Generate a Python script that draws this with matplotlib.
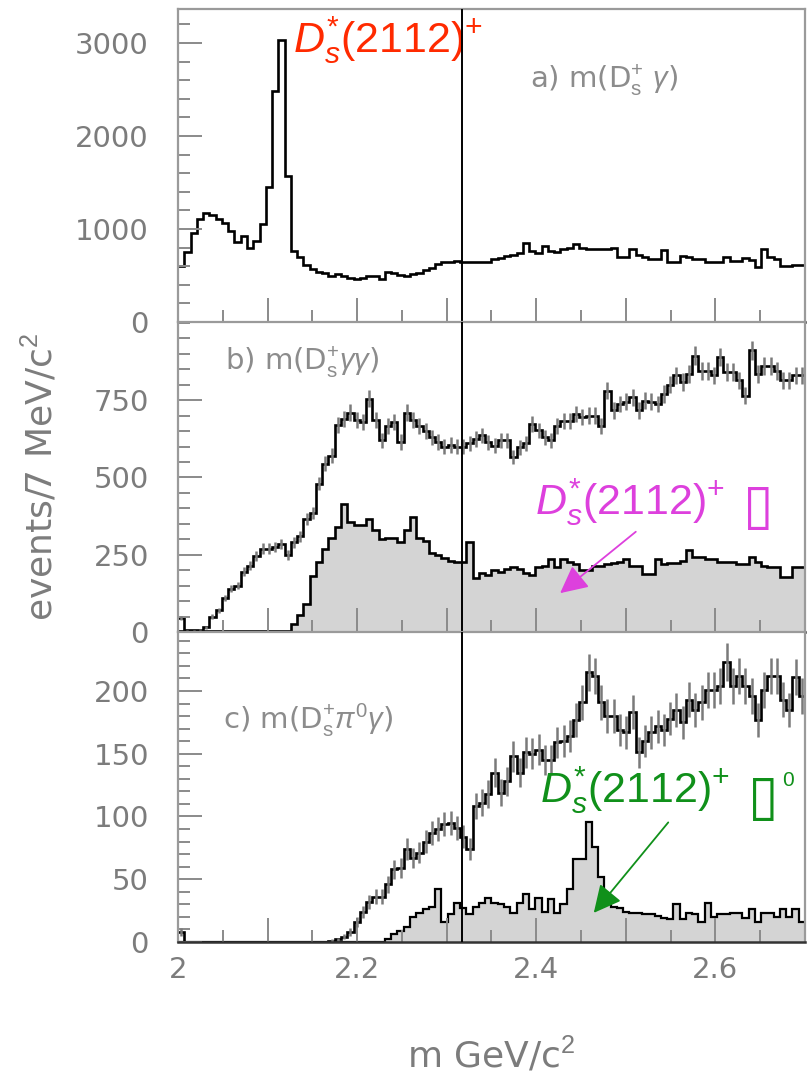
import numpy as np
import matplotlib.pyplot as plt
from matplotlib.ticker import MultipleLocator

plt.rcParams['font.family'] = ['DejaVu Sans']
plt.rcParams['mathtext.fontset'] = 'custom'
plt.rcParams['mathtext.rm'] = 'Liberation Sans'
plt.rcParams['mathtext.it'] = 'Liberation Sans:italic'

### data : 7 MeV bins, 2.0 - 2.7 GeV/c^2
m_lo, m_hi, n_bins = 2.0, 2.7, 100
m_ds2317 = 2.317  # vertical marker

# a) m(Ds gamma)
a_counts = [600, 750, 960, 1110, 1170, 1150, 1110, 1060, 980, 860,
            930, 800, 870, 1050, 1450, 2480, 3030, 1570, 760, 700,
            610, 570, 540, 530, 500, 520, 490, 470, 460, 470,
            490, 490, 460, 540, 530, 510, 490, 520, 530, 560,
            580, 620, 640, 640, 660, 650, 640, 650, 640, 650,
            680, 690, 710, 720, 740, 850, 760, 740, 820, 760,
            750, 790, 800, 840, 800, 780, 780, 790, 790, 800,
            700, 700, 780, 720, 700, 680, 680, 770, 640, 650,
            710, 700, 680, 680, 650, 640, 640, 700, 660, 660,
            690, 670, 590, 780, 700, 680, 600, 600, 610, 610]

# b) m(Ds gamma gamma) : all / Ds*(2112) gamma
b_all = [45, 5, 5, 8, 15, 50, 70, 110, 140, 150,
         195, 215, 245, 270, 270, 275, 285, 250, 290, 310,
         365, 385, 480, 545, 570, 670, 690, 710, 685, 680,
         755, 685, 620, 665, 680, 615, 710, 685, 665, 650,
         630, 615, 600, 605, 600, 600, 610, 625, 636, 614,
         603, 620, 620, 566, 598, 610, 673, 652, 630, 620,
         668, 684, 684, 706, 695, 700, 700, 668, 781, 717,
         738, 745, 760, 717, 749, 745, 738, 770, 800, 830,
         808, 835, 894, 846, 846, 830, 889, 840, 840, 814,
         765, 911, 835, 862, 862, 846, 814, 814, 830, 830]
b_dsstar = [3, 2, 3, 2, 3, 3, 2, 3, 3, 2,
            3, 3, 2, 3, 3, 2, 3, 3, 25, 55,
            90, 180, 225, 270, 305, 340, 415, 355, 345, 345,
            365, 330, 300, 305, 305, 290, 330, 372, 305, 295,
            255, 250, 240, 230, 225, 228, 290, 175, 190, 185,
            200, 195, 205, 210, 205, 190, 185, 210, 215, 237,
            210, 237, 225, 220, 200, 200, 215, 215, 220, 222,
            225, 235, 215, 215, 188, 188, 237, 220, 222, 222,
            230, 264, 242, 242, 237, 237, 226, 226, 228, 221,
            221, 242, 225, 215, 210, 210, 178, 178, 210, 210]

# c) m(Ds pi0 gamma) : all / Ds*(2112) pi0
c_all = [8, 0, 0, 0, 0, 0, 0, 0, 0, 0,
         0, 0, 0, 0, 0, 0, 0, 0, 0, 0,
         0, 0, 0, 0, 1, 2, 4, 8, 16, 24,
         32, 36, 36, 46, 58, 59, 74, 67, 71, 80,
         87, 90, 94, 95, 91, 84, 74, 108, 111, 118,
         135, 119, 128, 148, 135, 151, 150, 153, 145, 145,
         159, 160, 164, 177, 191, 215, 212, 191, 180, 180,
         169, 167, 183, 151, 160, 167, 172, 169, 178, 185,
         175, 193, 185, 191, 201, 201, 204, 223, 204, 212,
         204, 196, 177, 201, 212, 212, 193, 185, 211, 196]
c_dsstar = [0, 0, 0, 0, 0, 0, 0, 0, 0, 0,
            0, 0, 0, 0, 0, 0, 0, 0, 0, 0,
            0, 0, 0, 0, 0, 0, 0, 0, 0, 0,
            0, 0, 0, 2, 6, 9, 12, 20, 23, 26,
            28, 42, 16, 22, 31, 27, 22, 28, 31, 35,
            31, 30, 28, 23, 31, 38, 26, 35, 24, 34,
            23, 30, 42, 66, 66, 96, 76, 52, 31, 28,
            27, 24, 23, 23, 22, 22, 21, 19, 18, 30,
            18, 23, 22, 16, 31, 20, 22, 22, 23, 23,
            19, 26, 16, 23, 23, 20, 26, 20, 26, 16]

x_ticks = [2.0, 2.1, 2.2, 2.3, 2.4, 2.5, 2.6, 2.7]
x_ticklabels = ['2', '', '2.2', '', '2.4', '', '2.6', '']
a_yticks = [0, 1000, 2000, 3000]
b_yticks = [0, 250, 500, 750]
c_yticks = [0, 50, 100, 150, 200]

edges = np.linspace(m_lo, m_hi, n_bins + 1)
centers = 0.5 * (edges[:-1] + edges[1:])

gray_txt = '#7c7c7c'
fill_col = '#d4d4d4'
red, magenta, green = '#ff2a00', '#dd40dd', '#10901a'

fig = plt.figure(figsize=(8.11, 10.78), dpi=100)
W, H = 811, 1078
L, R = 178, 805


def make_ax(top, bottom, ylim, yticks, yminor):
    ax = fig.add_axes([L / W, 1 - bottom / H, (R - L) / W, (bottom - top) / H])
    ax.set_xlim(m_lo, m_hi)
    ax.set_ylim(0, ylim)
    ax.set_xticks(x_ticks)
    ax.xaxis.set_minor_locator(MultipleLocator(0.05))
    ax.set_yticks(yticks)
    ax.yaxis.set_minor_locator(MultipleLocator(yminor))
    ax.tick_params(which='both', direction='in', color='#8a8a8a', width=1.4,
                   top=False, right=False, labelcolor=gray_txt, labelsize=21)
    ax.tick_params(which='major', length=17)
    ax.tick_params(which='minor', length=8.5)
    ax.tick_params(axis='y', pad=21)
    ax.tick_params(axis='x', pad=10)
    for s in ['left', 'top', 'right']:
        ax.spines[s].set_color('#9a9a9a')
        ax.spines[s].set_linewidth(1.6)
    ax.spines['bottom'].set_color('#333333')
    ax.spines['bottom'].set_linewidth(1.8)
    ax.axvline(m_ds2317, color='black', lw=1.4, zorder=6)
    return ax


ax_a = make_ax(9, 322, 3366, a_yticks, 200)
ax_b = make_ax(322, 632, 1003, b_yticks, 50)
ax_c = make_ax(632, 942, 247, c_yticks, 10)

# 1) panel a
ax_a.stairs(a_counts, edges, baseline=None, color='black', lw=1.9)
ax_a.tick_params(labelbottom=False)

# 2) panel b
ax_b.stairs(b_dsstar, edges, fill=True, color=fill_col, lw=0)
b_err = np.sqrt(b_all)
ax_b.errorbar(centers, b_all, yerr=b_err, fmt='none', ecolor='#7a7a7a', elinewidth=1.8)
ax_b.stairs(b_all, edges, baseline=None, color='black', lw=1.9)
ax_b.stairs(b_dsstar, edges, baseline=None, color='black', lw=1.9)
ax_b.tick_params(labelbottom=False)

# 3) panel c
ax_c.stairs(c_dsstar, edges, fill=True, color=fill_col, lw=0)
c_mask = np.array(c_all) > 0
c_err = np.sqrt(c_all)
ax_c.errorbar(centers[c_mask], np.array(c_all)[c_mask], yerr=c_err[c_mask],
              fmt='none', ecolor='#7a7a7a', elinewidth=1.8)
ax_c.stairs(c_all, edges, baseline=None, color='black', lw=1.9)
ax_c.stairs(c_dsstar, edges, baseline=None, color='black', lw=1.6)
ax_c.set_xticklabels(x_ticklabels)

# panel titles
ax_a.text(0.561, 0.773, r'a) m(D$^{+}_{\mathrm{s}}$ $\gamma$)', transform=ax_a.transAxes,
          fontsize=21, color='#8c8c8c', va='center')
ax_b.text(0.075, 0.871, r'b) m(D$^{+}_{\mathrm{s}}\gamma\gamma$)', transform=ax_b.transAxes,
          fontsize=21, color='#8c8c8c', va='center')
ax_c.text(0.072, 0.716, r'c) m(D$^{+}_{\mathrm{s}}\pi^{0}\gamma$)', transform=ax_c.transAxes,
          fontsize=21, color='#8c8c8c', va='center')

# coloured annotations
ds_lbl = r'$D_s^{*}$(2112)$^{+}$'
ax_a.text(2.1284, 2893, ds_lbl, color=red, fontsize=31, family='Liberation Sans',
          ha='left', va='baseline')

ax_b.text(2.3986, 379, ds_lbl, color=magenta, fontsize=31, family='Liberation Sans',
          ha='left', va='baseline')
ax_b.text(2.6308, 352, '\u25af', color=magenta, fontsize=40, family='DejaVu Sans',
          style='italic', ha='left', va='baseline')
ax_b.annotate('', xy=(2.4242, 120), xytext=(2.5135, 330),
              arrowprops=dict(arrowstyle='-|>,head_length=0.6,head_width=0.3',
                              color=magenta, lw=1.3, mutation_scale=28))

ax_c.text(2.4041, 111.5, ds_lbl, color=green, fontsize=31, family='Liberation Sans',
          ha='left', va='baseline')
ax_c.text(2.6364, 102, '\u25af', color=green, fontsize=40, family='DejaVu Sans',
          style='italic', ha='left', va='baseline')
ax_c.text(2.6745, 124, '0', color=green, fontsize=15, family='Liberation Sans',
          ha='left', va='baseline')
ax_c.annotate('', xy=(2.4622, 21.5), xytext=(2.5493, 97),
              arrowprops=dict(arrowstyle='-|>,head_length=0.6,head_width=0.3',
                              color=green, lw=1.3, mutation_scale=28))

# axis titles
fig.text(491 / W, 1 - 1055 / H, r'm GeV/c$^{2}$', ha='center', va='center',
         fontsize=26, color=gray_txt)
fig.text(40 / W, 1 - 477 / H, r'events/7 MeV/c$^{2}$', rotation=90, ha='center',
         va='center', fontsize=26, color=gray_txt)

fig.savefig('out.png', dpi=100)
